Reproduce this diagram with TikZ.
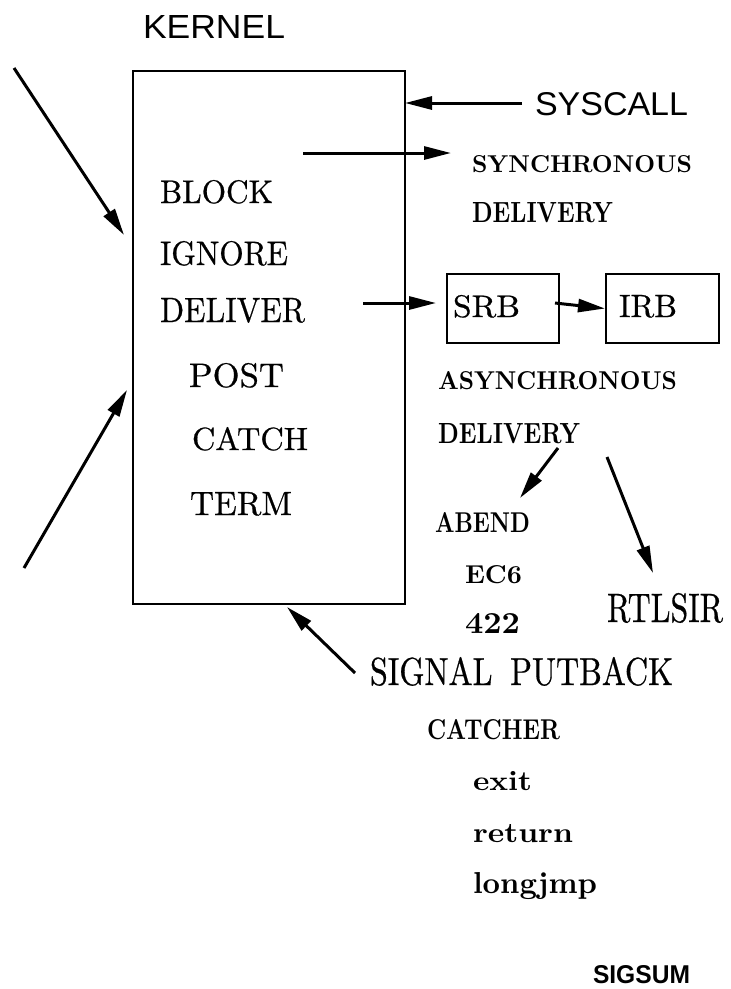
\documentclass[tikz,border=0pt]{standalone}
\usepackage{graphicx}
\usepackage{fontspec}
\setsansfont{Liberation Sans}
\newfontfamily\rmmed[FakeBold=0.6]{Latin Modern Roman}
\usetikzlibrary{arrows.meta}
% set a text to a given width and height (in pt)
\newcommand{\fitto}[3]{\resizebox{#1pt}{#2pt}{#3}}
\begin{document}
\begin{tikzpicture}[x=1pt,y=-1pt,
  lbl/.style={inner sep=0pt, outer sep=0pt, anchor=base west},
  frame/.style={draw, line width=2pt, inner sep=0pt},
  arr/.style={line width=3pt, -{Triangle[length=27pt,width=13pt]}}]
\useasboundingbox (0,0) rectangle (731,989);

% kernel box and its title
\node[frame, minimum width=272pt, minimum height=533pt] (kernel) at (269,337.5) {};
\node[lbl] (ktitle) at (143,38) {\sffamily\fitto{142}{23}{KERNEL}};

% actions listed inside the kernel
\node[lbl] (block)   at (160,203) {\rmmed\fitto{113}{23}{BLOCK}};
\node[lbl] (ignore)  at (160,265) {\rmmed\fitto{128}{24}{IGNORE}};
\node[lbl] (deliver) at (160,322) {\rmmed\fitto{145}{24}{DELIVER}};
\node[lbl] (post)    at (189,387) {\rmmed\fitto{95}{24}{POST}};
\node[lbl] (catch)   at (192,450) {\rmmed\fitto{116}{23}{CATCH}};
\node[lbl] (term)    at (190,515) {\rmmed\fitto{102}{23}{TERM}};

% system call entry
\node[lbl] (syscall) at (535,115) {\sffamily\fitto{153}{23}{SYSCALL}};
\coordinate (sysTail) at (522,103);
\coordinate (sysTip)  at (405,103);

% synchronous delivery
\node[lbl] (sync1) at (472,172) {\bfseries\fitto{220}{17}{SYNCHRONOUS}};
\node[lbl] (sync2) at (472,222) {\bfseries\fitto{141}{20}{DELIVERY}};
\coordinate (syncTail) at (303,153);
\coordinate (syncTip)  at (451,153);

% request blocks
\node[frame, minimum width=112pt, minimum height=69pt] (srb) at (503,308.5) {};
\node[frame, minimum width=113pt, minimum height=69pt] (irb) at (662.5,308.5) {};
\node[lbl] (srbt) at (453,317) {\rmmed\fitto{67}{22}{SRB}};
\node[lbl] (irbt) at (619,317) {\rmmed\fitto{58}{22}{IRB}};
\coordinate (delTail) at (363,303);
\coordinate (delTip)  at (436,303);
\coordinate (srbOut)  at (555,303);

% asynchronous delivery
\node[lbl] (async1) at (438,389) {\bfseries\fitto{239}{18}{ASYNCHRONOUS}};
\node[lbl] (async2) at (438,443) {\bfseries\fitto{142}{20}{DELIVERY}};
\coordinate (abTail) at (558,448);
\coordinate (abTip)  at (520,498);
\coordinate (rtTail) at (607,457);
\coordinate (rtTip)  at (653,573);

\node[lbl] (abend) at (435,532) {\bfseries\fitto{95}{20}{ABEND}};
\node[lbl] (ec6)   at (465,583) {\bfseries\fitto{57}{18}{EC6}};
\node[lbl] (n422)  at (465,633) {\bfseries\fitto{55}{20}{422}};
\node[lbl] (rtlsir) at (607,622) {\rmmed\fitto{116}{29}{RTLSIR}};

% signal putback and catcher exits
\node[lbl] (putback) at (370,685) {\rmmed\fitto{303}{28}{SIGNAL\hspace{0.55em}PUTBACK}};
\coordinate (pbTail) at (355,673);
\coordinate (pbTip)  at (287,607);
\node[lbl] (catcher) at (427,739) {\bfseries\fitto{133}{20}{CATCHER}};
\node[lbl] (exit)    at (473,790) {\bfseries\fitto{59}{19}{exit}};
\node[lbl] (return)  at (473,842) {\bfseries\fitto{100}{18}{return}};
\node[lbl] (longjmp) at (473,893) {\bfseries\fitto{124}{21}{longjmp}};

\node[lbl] (sigsum) at (593,983) {\sffamily\bfseries\fitto{97}{18}{SIGSUM}};

% incoming arrows on the left
\coordinate (inATail) at (14,68);
\coordinate (inATip)  at (124,235);
\coordinate (inBTail) at (24,568);
\coordinate (inBTip)  at (127,390);

% connectors
\draw[arr] (inATail) -- (inATip);
\draw[arr] (inBTail) -- (inBTip);
\draw[arr] (sysTail) -- (sysTip);
\draw[arr] (syncTail) -- (syncTip);
\draw[arr] (delTail) -- (delTip);
\draw[arr] (srbOut) -- (irb.west);
\draw[arr] (abTail) -- (abTip);
\draw[arr] (rtTail) -- (rtTip);
\draw[arr] (pbTail) -- (pbTip);
\end{tikzpicture}
\end{document}
